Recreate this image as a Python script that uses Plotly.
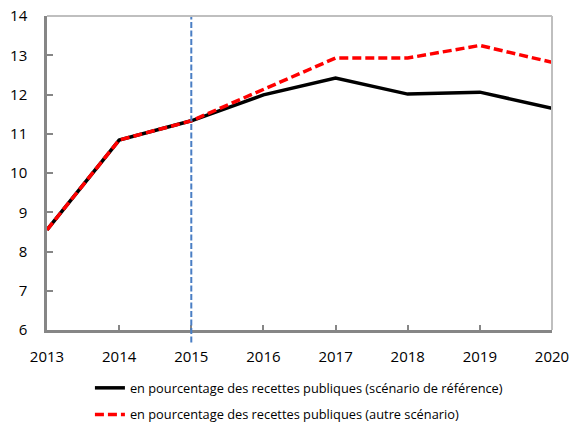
import plotly.graph_objects as go

years = [2013, 2014, 2015, 2016, 2017, 2018, 2019, 2020]
ref_scenario = [8.55, 10.84, 11.33, 11.99, 12.42, 12.01, 12.06, 11.65]
alt_scenario = [8.55, 10.84, 11.33, 12.14, 12.93, 12.93, 13.25, 12.82]
names = ["en pourcentage des recettes publiques (scénario de référence)",
         "en pourcentage des recettes publiques (autre scénario)"]

FONT = "Open Sans, Noto Sans, sans-serif"

fig = go.Figure()
fig.add_trace(go.Scatter(x=years, y=ref_scenario, mode="lines", name=names[0],
                         legendgroup="a",
                         line=dict(color="#000000", width=3.5)))
fig.add_trace(go.Scatter(x=years, y=alt_scenario, mode="lines", name=names[1],
                         legendgroup="b",
                         line=dict(color="#FF0000", width=3.5, dash="9px,4px")))

# vertical dashed marker at 2015
fig.add_shape(type="line", xref="x", yref="paper", x0=2015, x1=2015, y0=-0.04, y1=1,
              line=dict(color="#4A7EC4", width=2, dash="6px,2.5px"))
# light top/right border
fig.add_shape(type="line", xref="paper", yref="paper", x0=0, x1=1, y0=1, y1=1,
              line=dict(color="#BFBFBF", width=2))
fig.add_shape(type="line", xref="paper", yref="paper", x0=1, x1=1, y0=0, y1=1,
              line=dict(color="#BFBFBF", width=2))

fig.update_layout(
    width=573, height=425,
    margin=dict(l=47, r=21, t=16, b=95, autoexpand=False),
    paper_bgcolor="white", plot_bgcolor="white",
    font=dict(family=FONT, color="#000000", size=15),
    showlegend=True,
    legend=dict(x=0.085, y=-0.137, xanchor="left", yanchor="top",
                font=dict(size=12.8, family=FONT), tracegroupgap=7,
                bgcolor="rgba(0,0,0,0)"),
    xaxis=dict(range=[2013, 2020], tickmode="array", tickvals=years,
               ticktext=[str(y) for y in years], showgrid=False, zeroline=False,
               showline=True, linecolor="#868686", linewidth=2.5, automargin=False,
               ticks="inside", ticklen=5, tickcolor="#868686", tickwidth=2,
               ticklabelstandoff=11, tickfont=dict(size=15)),
    yaxis=dict(range=[6, 14], tickvals=[6, 7, 8, 9, 10, 11, 12, 13, 14],
               showgrid=False, zeroline=False, automargin=False,
               showline=True, linecolor="#868686", linewidth=2.5,
               ticks="inside", ticklen=6, tickcolor="#868686", tickwidth=2,
               ticklabelstandoff=14, tickfont=dict(size=15)),
)

fig.write_html("out.html", config={"displayModeBar": False},
               post_script="document.body.style.margin='0';")
